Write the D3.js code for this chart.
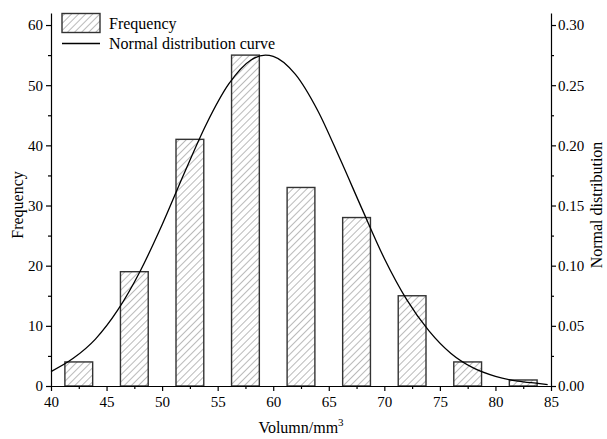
<!DOCTYPE html>
<html>
<head>
<meta charset="utf-8">
<script src="https://cdn.jsdelivr.net/npm/d3@7"></script>
<style>
  body { margin: 0; background: #fff; }
  text { font-family: "Liberation Serif", "Times New Roman", serif; fill: #000; }
</style>
</head>
<body>
<svg width="607" height="439"></svg>
<script>
'use strict'

// bins (centre of each 5 mm3 class) and counts
const binCenters = [42.5, 47.5, 52.5, 57.5, 62.5, 67.5, 72.5, 77.5, 82.5]
const counts = [4, 19, 41, 55, 33, 28, 15, 4, 1]

// normal curve (right axis)
const curveX = [40, 42, 44, 46, 48, 50, 52, 54, 56, 58, 59.3, 60, 62, 64, 66, 68, 70, 72, 74, 76, 78, 80, 82, 84, 84.7]
const curveY = [0.012, 0.023, 0.039, 0.063, 0.095, 0.134, 0.177, 0.218, 0.251, 0.271, 0.275, 0.274, 0.259, 0.229, 0.189, 0.147, 0.106, 0.072, 0.046, 0.027, 0.015, 0.008, 0.004, 0.002, 0.0012]

const xTicks = [40, 45, 50, 55, 60, 65, 70, 75, 80, 85]
const yTicks = [0, 10, 20, 30, 40, 50, 60]
const y2Ticks = [0, 0.05, 0.10, 0.15, 0.20, 0.25, 0.30]

const svg = d3.select('svg')
const plotLeft = 51, plotRight = 551, plotTop = 13, plotBottom = 386

const x = d3.scaleLinear().domain([40, 85]).range([plotLeft, plotRight])
const y = d3.scaleLinear().domain([0, 62]).range([plotBottom, plotTop])
const y2 = d3.scaleLinear().domain([0, 0.31]).range([plotBottom, plotTop])

const defs = svg.append('defs')
defs.append('pattern')
    .attr('id', 'hatch')
    .attr('patternUnits', 'userSpaceOnUse')
    .attr('width', 5)
    .attr('height', 5)
    .attr('patternTransform', 'rotate(45)')
    .append('line')
    .attr('x1', 0).attr('y1', 0)
    .attr('x2', 0).attr('y2', 5)
    .attr('stroke', '#666')
    .attr('stroke-width', 0.9)

// bars
svg.append('g')
    .selectAll('rect')
    .data(counts)
    .enter()
    .append('rect')
    .attr('x', (d, i) => x(binCenters[i] - 1.25))
    .attr('width', x(42.5) - x(40))
    .attr('y', d => y(d))
    .attr('height', d => plotBottom - y(d))
    .attr('fill', 'url(#hatch)')
    .attr('stroke', '#333')
    .attr('stroke-width', 1.4)

// curve
const pts = curveX.map((v, i) => [v, curveY[i]])
svg.append('path')
    .datum(pts)
    .attr('fill', 'none')
    .attr('stroke', '#000')
    .attr('stroke-width', 1.3)
    .attr('d', d3.line().x(d => x(d[0])).y(d => y2(d[1])).curve(d3.curveMonotoneX))

// axes
const minor = (scale, ticks, step) => {
    const out = []
    ticks.forEach(t => { if (t + step < scale.domain()[1]) out.push(t + step) })
    return out
}

const styleAxis = g => {
    g.select('.domain').attr('stroke', '#000').attr('stroke-width', 1.2)
    g.selectAll('.tick line').attr('stroke', '#000').attr('stroke-width', 1.2)
    g.selectAll('text').style('font-size', '15px').style('font-family', '"Liberation Serif", serif')
}

svg.append('g').attr('transform', `translate(0,${plotBottom})`)
    .call(d3.axisBottom(x).tickValues(xTicks).tickSize(5).tickPadding(5).tickSizeOuter(0))
    .call(styleAxis)
svg.append('g').attr('transform', `translate(0,${plotBottom})`)
    .call(d3.axisBottom(x).tickValues(minor(x, xTicks, 2.5)).tickSize(3).tickFormat('').tickSizeOuter(0))
    .call(g => g.select('.domain').remove())
    .call(styleAxis)

svg.append('g').attr('transform', `translate(${plotLeft},0)`)
    .call(d3.axisLeft(y).tickValues(yTicks).tickSize(5).tickPadding(3).tickSizeOuter(0))
    .call(styleAxis)
svg.append('g').attr('transform', `translate(${plotLeft},0)`)
    .call(d3.axisLeft(y).tickValues(minor(y, yTicks, 5)).tickSize(3).tickFormat('').tickSizeOuter(0))
    .call(g => g.select('.domain').remove())
    .call(styleAxis)

svg.append('g').attr('transform', `translate(${plotRight},0)`)
    .call(d3.axisRight(y2).tickValues(y2Ticks).tickSize(5).tickPadding(2).tickFormat(d3.format('.2f')).tickSizeOuter(0))
    .call(styleAxis)
svg.append('g').attr('transform', `translate(${plotRight},0)`)
    .call(d3.axisRight(y2).tickValues(minor(y2, y2Ticks, 0.025)).tickSize(3).tickFormat('').tickSizeOuter(0))
    .call(g => g.select('.domain').remove())
    .call(styleAxis)

// titles
const xt = svg.append('text')
    .attr('x', 301).attr('y', 433)
    .attr('text-anchor', 'middle')
    .style('font-size', '16px')
xt.append('tspan').text('Volumn/mm')
xt.append('tspan').text('3').attr('dy', -7).style('font-size', '11px')

svg.append('text')
    .attr('transform', 'translate(23,205) rotate(-90)')
    .attr('text-anchor', 'middle')
    .style('font-size', '16px')
    .text('Frequency')

svg.append('text')
    .attr('transform', 'translate(602,205) rotate(-90)')
    .attr('text-anchor', 'middle')
    .style('font-size', '16px')
    .text('Normal distribution')

// legend
svg.append('rect')
    .attr('x', 62).attr('y', 13.5)
    .attr('width', 38).attr('height', 19)
    .attr('fill', 'url(#hatch)')
    .attr('stroke', '#333')
    .attr('stroke-width', 1.4)
svg.append('text').attr('x', 109).attr('y', 29).style('font-size', '16px').text('Frequency')
svg.append('line')
    .attr('x1', 62).attr('x2', 100)
    .attr('y1', 43.5).attr('y2', 43.5)
    .attr('stroke', '#000').attr('stroke-width', 1.3)
svg.append('text').attr('x', 109).attr('y', 49).style('font-size', '16px').text('Normal distribution curve')
</script>
</body>
</html>
